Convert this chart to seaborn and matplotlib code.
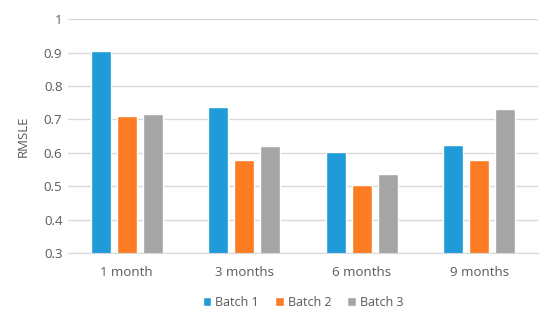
import matplotlib
matplotlib.use("Agg")
import matplotlib.pyplot as plt
import seaborn as sns
import pandas as pd

# data
periods = ["1 month", "3 months", "6 months", "9 months"]
batches = ["Batch 1", "Batch 2", "Batch 3"]
batch1 = [0.905, 0.738, 0.602, 0.623]
batch2 = [0.709, 0.578, 0.503, 0.578]
batch3 = [0.717, 0.621, 0.537, 0.730]
colors = ["#1F9BD7", "#FC7D23", "#A5A5A5"]

rows = []
for b, vals in zip(batches, [batch1, batch2, batch3]):
    for p, v in zip(periods, vals):
        rows.append({"period": p, "batch": b, "RMSLE": v})
df = pd.DataFrame(rows)

sns.set_style("white")
plt.rcParams["font.family"] = ["Open Sans", "DejaVu Sans"]
txt = "#595959"

fig = plt.figure(figsize=(5.5, 3.2), dpi=100)
ax = fig.add_axes([0.1236, 0.209, 0.855, 0.731])

sns.barplot(data=df, x="period", y="RMSLE", hue="batch", palette=colors,
            width=0.664, gap=0.23, saturation=1, ax=ax, legend=True)

ax.set_ylim(0.3, 1.0)
ax.set_yticks([0.3, 0.4, 0.5, 0.6, 0.7, 0.8, 0.9, 1.0])
ax.set_yticklabels(["0.3", "0.4", "0.5", "0.6", "0.7", "0.8", "0.9", "1"])
ax.set_xlim(-0.5, 3.5)
ax.yaxis.grid(True, color="#D9D9D9", linewidth=1)
ax.set_axisbelow(True)
for s in ["top", "right", "left"]:
    ax.spines[s].set_visible(False)
ax.spines["bottom"].set_color("#D9D9D9")
ax.tick_params(axis="both", length=0, colors=txt, labelsize=9.5)
ax.tick_params(axis="y", pad=4)
ax.tick_params(axis="x", pad=9)
ax.set_xlabel("")
ax.set_ylabel("RMSLE", color=txt, fontsize=9.5, labelpad=10)

leg = ax.legend(loc="center", bbox_to_anchor=(0.5, -0.21), ncol=3, frameon=False,
                fontsize=9, handlelength=0.7, handleheight=0.7, handletextpad=0.3,
                columnspacing=1.3)
for t in leg.get_texts():
    t.set_color(txt)

fig.savefig("out.png", dpi=100)
